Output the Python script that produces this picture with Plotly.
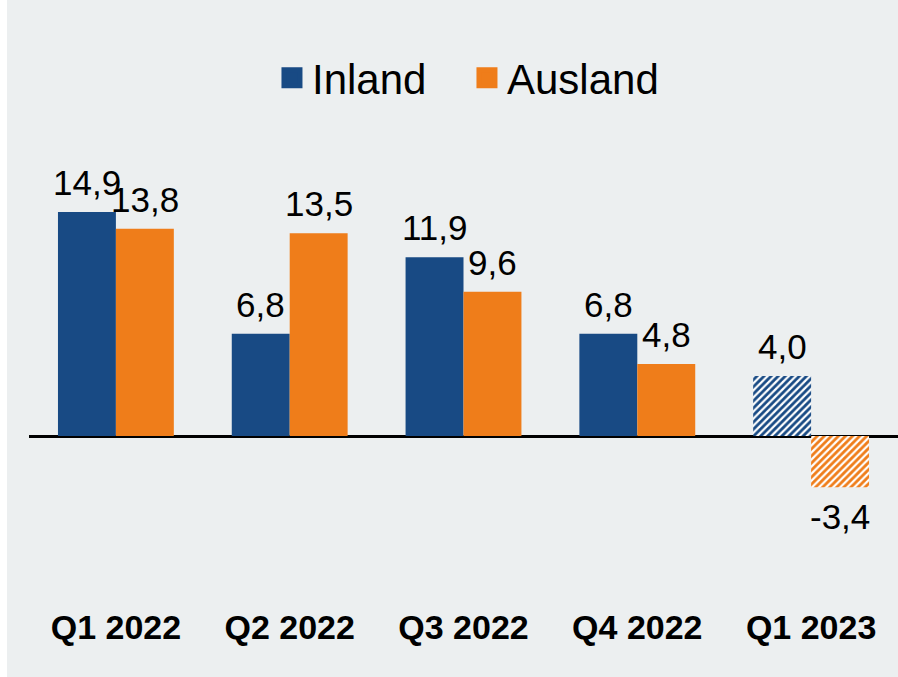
import plotly.graph_objects as go

quarters = ["Q1 2022", "Q2 2022", "Q3 2022", "Q4 2022", "Q1 2023"]
inland = [14.9, 6.8, 11.9, 6.8, 4.0]
ausland = [13.8, 13.5, 9.6, 4.8, -3.4]
hatched = [False, False, False, False, True]   # Q1 2023 shown hatched (forecast)

COL_IN = "#184A84"
COL_AUS = "#EF7D1A"
BG = "#ECEFF0"
FONT = "Arial, 'Liberation Sans', sans-serif"


def fmt(v):
    return f"{v:.1f}".replace(".", ",")


fig = go.Figure()
for name, vals, col, off in [("Inland", inland, COL_IN, -29), ("Ausland", ausland, COL_AUS, 29)]:
    fig.add_trace(go.Bar(
        x=quarters, y=vals, name=name, showlegend=False,
        marker=dict(
            color=col, line=dict(width=0),
            pattern=dict(shape=["/" if h else "" for h in hatched], fillmode="replace",
                         bgcolor="white", fgcolor=col, size=5, solidity=0.55),
        ),
    ))
    # legend-only entries (bigger squares than the default bar legend symbol)
    fig.add_trace(go.Scatter(
        x=[None], y=[None], mode="markers", name=name,
        marker=dict(symbol="square", size=16, color=col, line=dict(color=col, width=5)),
    ))
    for q, v in zip(quarters, vals):
        fig.add_annotation(
            x=q, y=v, xshift=off, text=fmt(v), showarrow=False,
            yanchor="bottom" if v >= 0 else "top",
            yshift=8 if v >= 0 else -8,
            font=dict(size=35, color="black", family=FONT),
        )

fig.update_layout(
    width=891, height=677,
    margin=dict(l=22, r=0, t=100, b=77),
    paper_bgcolor=BG, plot_bgcolor=BG,
    barmode="group", bargap=1 / 3, bargroupgap=0,
    font=dict(family=FONT, color="black"),
    legend=dict(orientation="h", x=0.504, xanchor="center", y=1.044, yanchor="middle",
                font=dict(size=42, family=FONT), bgcolor="rgba(0,0,0,0)",
                itemsizing="trace", entrywidth=150, entrywidthmode="pixels"),
    xaxis=dict(showgrid=False, ticks="", showline=False, ticklabelstandoff=4,
               tickfont=dict(size=34, family=FONT, color="black", weight="bold")),
    yaxis=dict(range=[-10.91, 22.36], visible=True, showgrid=False, showticklabels=False,
               zeroline=True, zerolinecolor="black", zerolinewidth=3),
)

fig.write_html("out.html", post_script="document.body.style.margin='0 0 0 7px';")
